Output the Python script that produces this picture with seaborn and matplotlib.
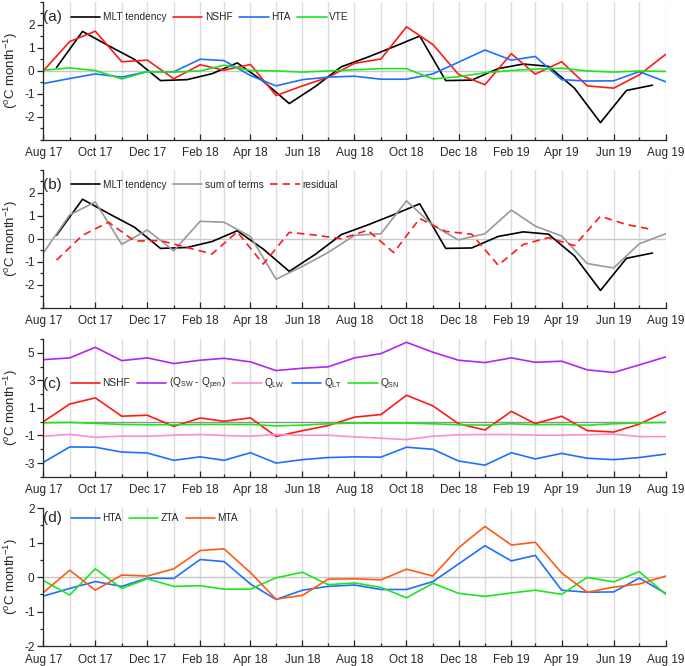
import numpy as np
import pandas as pd
import matplotlib
matplotlib.use("Agg")
import matplotlib.pyplot as plt
import matplotlib.dates as mdates
import seaborn as sns

# ── data ─────────────────────────────────────────────────────────────────────

months = pd.date_range("2017-08-01", periods=25, freq="MS")
mid_months = months[:-1] + (months[1:] - months[:-1]) / 2

# panel (a): tendency sits at mid-month, the terms at month starts
mlt_tendency = [0.15, 1.72, 1.10, 0.50, -0.42, -0.38, -0.12, 0.35, -0.45, -1.42,
                -0.68, 0.18, 0.60, 1.05, 1.52, -0.42, -0.40, 0.10, 0.30, 0.20,
                -0.75, -2.25, -0.85, -0.62]
nshf = [0.00, 1.28, 1.73, 0.40, 0.47, -0.34, 0.27, 0.03, 0.28, -1.07,
        -0.65, -0.28, 0.33, 0.52, 1.92, 1.15, -0.15, -0.60, 0.75, -0.14,
        0.40, -0.65, -0.75, -0.17, 0.72]
hta = [-0.55, -0.33, -0.13, -0.27, -0.03, -0.04, 0.51, 0.45, -0.20, -0.65,
       -0.38, -0.27, -0.23, -0.36, -0.36, -0.13, 0.38, 0.91, 0.47, 0.63,
       -0.38, -0.44, -0.43, -0.03, -0.47]
vte = [0.03, 0.13, 0.02, -0.35, -0.03, -0.05, 0.00, 0.25, 0.02, 0.00,
       -0.05, 0.00, 0.05, 0.10, 0.10, -0.35, -0.25, -0.08, 0.02, 0.08,
       0.12, 0.00, -0.05, 0.00, -0.02]

# panel (b)
sum_of_terms = [-0.62, 1.04, 1.60, -0.24, 0.38, -0.52, 0.76, 0.72, 0.10, -1.76,
                -1.20, -0.60, 0.15, 0.22, 1.65, 0.58, -0.05, 0.22, 1.25, 0.55,
                0.12, -1.08, -1.27, -0.22, 0.22]
residual = [-0.93, 0.15, 0.72, -0.10, -0.08, -0.38, -0.66, 0.30, -1.10, 0.28,
            0.16, 0.00, 0.37, -0.60, 0.88, 0.32, 0.20, -1.15, -0.25, 0.05,
            -0.30, 0.98, 0.62, 0.40]

# panel (c)
q_sw_pen = [4.50, 4.63, 5.40, 4.43, 4.63, 4.22, 4.46, 4.60, 4.34, 3.71,
            3.88, 3.98, 4.63, 4.94, 5.76, 5.04, 4.46, 4.29, 4.63, 4.31,
            4.39, 3.76, 3.57, 4.12, 4.70]
q_lw = [-1.05, -0.92, -1.13, -1.05, -1.05, -0.98, -0.93, -1.00, -1.05, -0.93,
        -0.98, -0.98, -1.10, -1.20, -1.30, -1.05, -0.95, -0.93, -0.93, -0.98,
        -0.98, -0.95, -0.90, -1.08, -1.08]
q_lt = [-2.95, -1.83, -1.85, -2.20, -2.27, -2.80, -2.55, -2.80, -2.25, -3.00,
        -2.75, -2.60, -2.55, -2.57, -1.85, -2.00, -2.85, -3.15, -2.25, -2.70,
        -2.30, -2.65, -2.75, -2.60, -2.35]
q_sn = [-0.08, -0.05, -0.12, -0.20, -0.22, -0.22, -0.20, -0.20, -0.20, -0.30,
        -0.25, -0.15, -0.10, -0.10, -0.10, -0.15, -0.22, -0.25, -0.15, -0.22,
        -0.20, -0.25, -0.15, -0.08, -0.05]

# panel (d)
zta = [-0.10, -0.52, 0.24, -0.33, -0.05, -0.27, -0.25, -0.35, -0.35, -0.02,
       0.14, -0.22, -0.17, -0.30, -0.60, -0.18, -0.47, -0.56, -0.46, -0.38,
       -0.50, -0.01, -0.14, 0.16, -0.50]
mta = [-0.45, 0.20, -0.38, 0.06, 0.03, 0.24, 0.77, 0.82, 0.13, -0.64,
       -0.53, -0.06, -0.05, -0.08, 0.23, 0.03, 0.85, 1.47, 0.93, 1.01,
       0.12, -0.44, -0.29, -0.20, 0.03]

# ── style ────────────────────────────────────────────────────────────────────

sns.set_theme(style="ticks")
plt.rcParams["font.family"] = ["Liberation Sans", "DejaVu Sans"]
plt.rcParams["mathtext.fontset"] = "custom"
plt.rcParams["mathtext.rm"] = "Liberation Sans"
plt.rcParams["mathtext.it"] = "Liberation Sans"
plt.rcParams["axes.unicode_minus"] = False

BLACK = "black"
RED = "#ff1a1a"
BLUE = "#1f6fff"
GREEN = "#1ee61e"
GRAY = "#999999"
PURPLE = "#b026f0"
PINK = "#ff8ccc"
ORANGE = "#ff5a14"
LW = 1.2

fig = plt.figure(figsize=(6.85, 6.66), dpi=100)
left, width, height = 0.0632, 0.9086, 0.207
bottoms = [0.790, 0.538, 0.284, 0.030]
axes = [fig.add_axes([left, b, width, height]) for b in bottoms]


def style_axis(ax, ylim, major, minor, zero_color="#c8c8c8"):
    ax.set_xlim(months[0], months[-1])
    ax.set_ylim(*ylim)
    ax.xaxis.set_major_locator(mdates.MonthLocator(bymonth=[2, 4, 6, 8, 10, 12]))
    ax.xaxis.set_major_formatter(mdates.DateFormatter("%b %y"))
    ax.xaxis.set_minor_locator(mdates.MonthLocator())
    ax.yaxis.set_major_locator(plt.FixedLocator(major))
    ax.yaxis.set_minor_locator(plt.FixedLocator(minor))
    ax.grid(which="both", axis="x", color="#dcdcdc", linewidth=1.0)
    ax.set_axisbelow(True)
    ax.axhline(0, color=zero_color, linewidth=1.0, zorder=1)
    ax.tick_params(axis="x", which="major", direction="in", length=4.3, width=0.9,
                   labelsize=8.5, pad=5.5)
    ax.tick_params(axis="x", which="minor", direction="in", length=2.5, width=0.9)
    ax.tick_params(axis="y", which="major", direction="out", length=4.3, width=0.9,
                   labelsize=8.5, pad=2)
    ax.tick_params(axis="y", which="minor", direction="out", length=2.5, width=0.9)
    for side in ["top", "right"]:
        ax.spines[side].set_visible(False)
    for side in ["left", "bottom"]:
        ax.spines[side].set_linewidth(0.9)
    ax.set_ylabel(r"($^{\rm o}$C month$^{-1}$)", fontsize=9.5)
    ax.yaxis.set_label_coords(-0.037, 0.5)
    ax.set_xlabel("")


def add_legend(ax, tag, y, ncol):
    ax.text(0.0, y, tag, transform=ax.transAxes, fontsize=11, va="center")
    ax.legend(loc="center left", bbox_to_anchor=(0.044, y), ncol=ncol,
              frameon=False, fontsize=7.3, handlelength=2.9,
              handletextpad=0.25, columnspacing=0.65, borderaxespad=0,
              borderpad=0)


# ── (a) ──────────────────────────────────────────────────────────────────────
ax = axes[0]
sns.lineplot(x=mid_months, y=mlt_tendency, ax=ax, color=BLACK, lw=LW, label="MLT tendency")
sns.lineplot(x=months, y=nshf, ax=ax, color=RED, lw=LW, label="NSHF")
sns.lineplot(x=months, y=hta, ax=ax, color=BLUE, lw=LW, label="HTA")
sns.lineplot(x=months, y=vte, ax=ax, color=GREEN, lw=LW, label="VTE")
style_axis(ax, (-3, 3), [-2, -1, 0, 1, 2], np.arange(-3, 3.01, 0.5))
add_legend(ax, "(a)", 0.89, 4)

# ── (b) ──────────────────────────────────────────────────────────────────────
ax = axes[1]
sns.lineplot(x=mid_months, y=mlt_tendency, ax=ax, color=BLACK, lw=LW, label="MLT tendency")
sns.lineplot(x=months, y=sum_of_terms, ax=ax, color=GRAY, lw=LW, label="sum of terms")
sns.lineplot(x=mid_months, y=residual, ax=ax, color=RED, lw=LW, ls=(0, (4.5, 3)), label="residual")
style_axis(ax, (-3, 3), [-2, -1, 0, 1, 2], np.arange(-3, 3.01, 0.5))
add_legend(ax, "(b)", 0.89, 3)

# ── (c) ──────────────────────────────────────────────────────────────────────
ax = axes[2]
sns.lineplot(x=months, y=nshf, ax=ax, color=RED, lw=LW, label="NSHF")
sns.lineplot(x=months, y=q_sw_pen, ax=ax, color=PURPLE, lw=LW, label=r"(Q$_{SW}$ - Q$_{pen}$)")
sns.lineplot(x=months, y=q_lw, ax=ax, color=PINK, lw=LW, label=r"Q$_{LW}$")
sns.lineplot(x=months, y=q_lt, ax=ax, color=BLUE, lw=LW, label=r"Q$_{LT}$")
sns.lineplot(x=months, y=q_sn, ax=ax, color=GREEN, lw=LW, label=r"Q$_{SN}$")
style_axis(ax, (-4, 6), [-3, -1, 1, 3, 5], np.arange(-4, 6.01, 1), zero_color="#909090")
add_legend(ax, "(c)", 0.674, 5)

# ── (d) ──────────────────────────────────────────────────────────────────────
ax = axes[3]
sns.lineplot(x=months, y=hta, ax=ax, color=BLUE, lw=LW, label="HTA")
sns.lineplot(x=months, y=zta, ax=ax, color=GREEN, lw=LW, label="ZTA")
sns.lineplot(x=months, y=mta, ax=ax, color=ORANGE, lw=LW, label="MTA")
style_axis(ax, (-2, 2), [-2, -1, 0, 1, 2], np.arange(-2, 2.01, 0.5))
add_legend(ax, "(d)", 0.927, 3)

fig.savefig("out.png", dpi=100)
